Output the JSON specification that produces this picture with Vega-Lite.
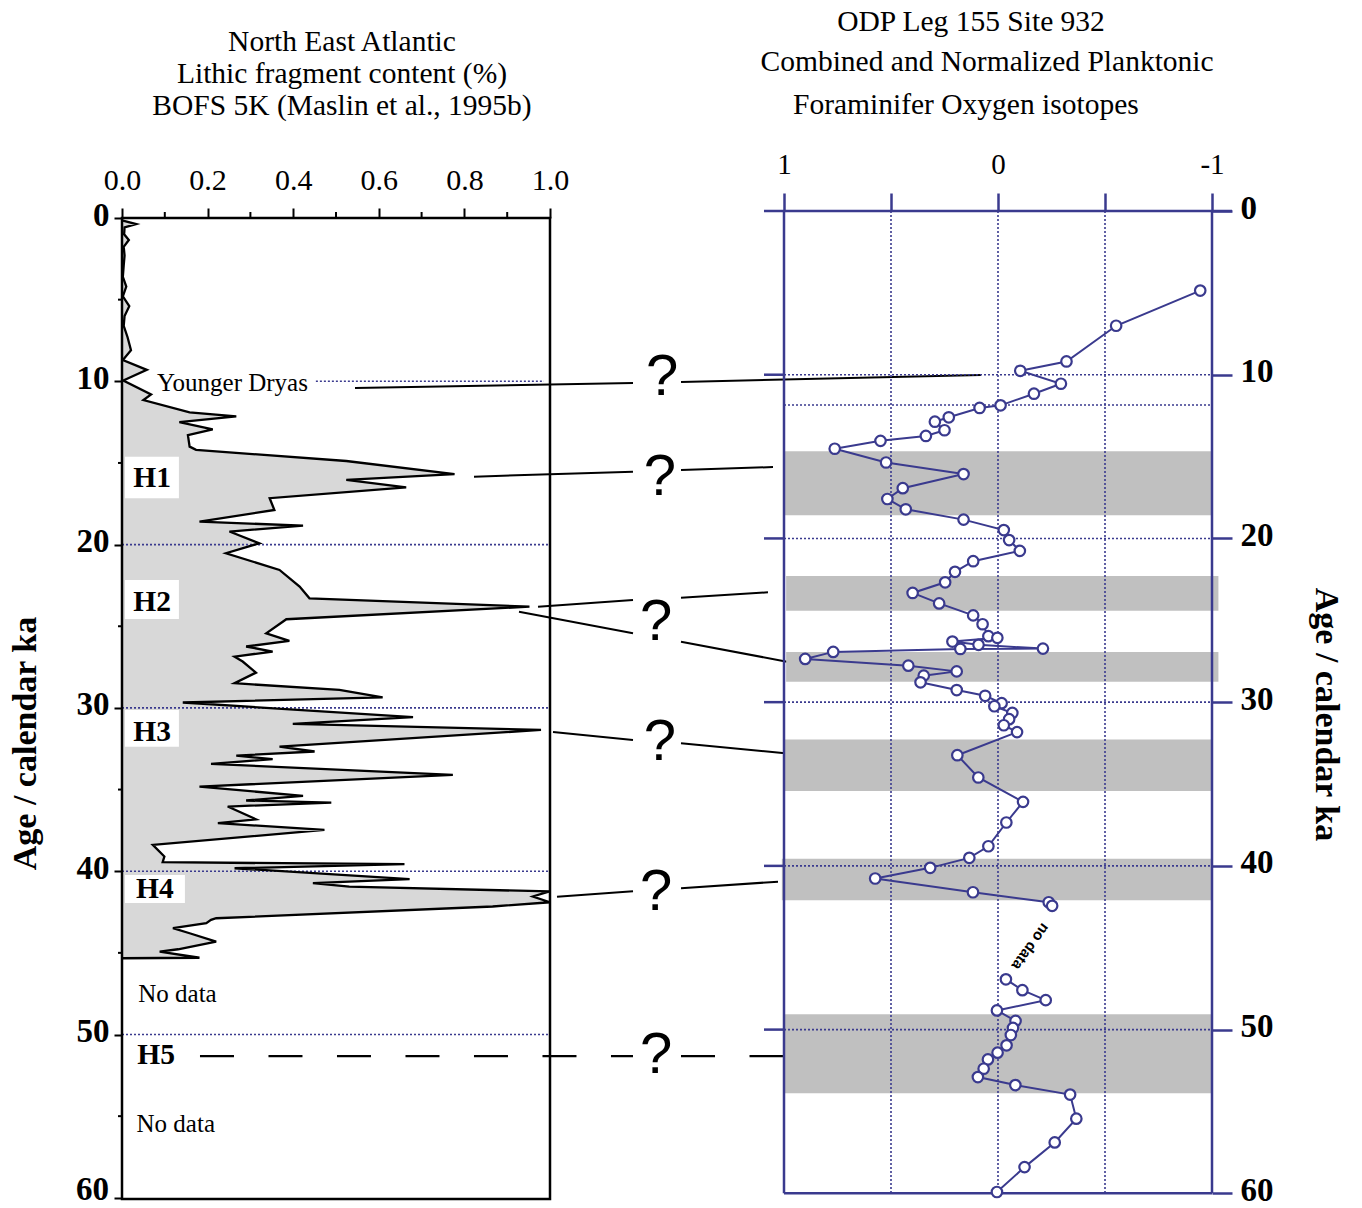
{
 "$schema": "https://vega.github.io/schema/vega-lite/v6.json",
 "width": 1090,
 "height": 988,
 "autosize": {"type": "none"},
 "padding": {"left": 122, "top": 211, "right": 150, "bottom": 9},
 "background": "white",
 "config": {"view": {"stroke": null}, "text": {"font": "Liberation Serif", "color": "black"}, "axis": {"grid": false, "domain": false}},
 "datasets": {
  "lithic": [
   {"x":0,"y":0.15},{"x":0.033,"y":0.37},{"x":0.006,"y":0.57},{"x":0.005,"y":1.0},{"x":0.016,"y":1.35},{"x":0.004,"y":1.76},{"x":0.006,"y":2.3},{"x":0.004,"y":2.9},{"x":0.002,"y":3.6},{"x":0.010,"y":4.2},{"x":0.002,"y":4.8},{"x":0.017,"y":5.4},{"x":0.006,"y":6.0},{"x":0.004,"y":6.6},{"x":0.013,"y":7.3},{"x":0.021,"y":8.1},{"x":0.002,"y":8.7},{"x":0.058,"y":9.3},{"x":0.003,"y":9.95},{"x":0.068,"y":10.8},{"x":0.050,"y":11.15},{"x":0.158,"y":11.9},{"x":0.267,"y":12.15},{"x":0.134,"y":12.5},{"x":0.212,"y":12.95},{"x":0.154,"y":13.3},{"x":0.158,"y":14.0},{"x":0.173,"y":14.2},{"x":0.524,"y":14.88},{"x":0.777,"y":15.69},{"x":0.524,"y":16.04},{"x":0.664,"y":16.49},{"x":0.345,"y":17.16},{"x":0.356,"y":17.88},{"x":0.181,"y":18.59},{"x":0.423,"y":18.84},{"x":0.251,"y":19.2},{"x":0.321,"y":19.92},{"x":0.243,"y":20.53},{"x":0.368,"y":21.55},{"x":0.415,"y":22.57},{"x":0.438,"y":23.29},{"x":0.952,"y":23.8},{"x":0.384,"y":24.57},{"x":0.337,"y":25.43},{"x":0.391,"y":25.9},{"x":0.290,"y":26.24},{"x":0.352,"y":26.55},{"x":0.263,"y":26.86},{"x":0.282,"y":27.16},{"x":0.313,"y":27.84},{"x":0.263,"y":28.49},{"x":0.508,"y":28.9},{"x":0.609,"y":29.35},{"x":0.142,"y":29.67},{"x":0.680,"y":30.57},{"x":0.399,"y":30.98},{"x":0.979,"y":31.35},{"x":0.368,"y":32.37},{"x":0.450,"y":32.67},{"x":0.267,"y":32.92},{"x":0.352,"y":33.14},{"x":0.208,"y":33.43},{"x":0.773,"y":34.1},{"x":0.181,"y":34.82},{"x":0.423,"y":35.39},{"x":0.290,"y":35.67},{"x":0.489,"y":35.8},{"x":0.247,"y":36.04},{"x":0.313,"y":36.82},{"x":0.224,"y":37.06},{"x":0.473,"y":37.47},{"x":0.072,"y":38.39},{"x":0.099,"y":39.1},{"x":0.095,"y":39.45},{"x":0.660,"y":39.57},{"x":0.263,"y":39.82},{"x":0.672,"y":40.48},{"x":0.446,"y":40.73},{"x":0.531,"y":40.94},{"x":0.999,"y":41.24},{"x":0.960,"y":41.55},{"x":1.0,"y":41.9},{"x":0.866,"y":42.16},{"x":0.220,"y":42.88},{"x":0.208,"y":42.98},{"x":0.197,"y":43.18},{"x":0.119,"y":43.49},{"x":0.158,"y":43.8},{"x":0.220,"y":44.31},{"x":0.131,"y":44.78},{"x":0.088,"y":44.92},{"x":0.181,"y":45.3},{"x":0.0,"y":45.33}
  ],
  "lboxes": [
   {"x":0.007,"x2":0.133,"y":14.62,"y2":17.16},
   {"x":0.007,"x2":0.133,"y":22.17,"y2":24.56},
   {"x":0.007,"x2":0.133,"y":30.13,"y2":32.38},
   {"x":0.007,"x2":0.147,"y":40.23,"y2":41.95}
  ],
  "ldots": [
   {"x":0.453,"x2":0.986,"y":10,"y2":10},
   {"x":0,"x2":1,"y":20,"y2":20},
   {"x":0,"x2":1,"y":30,"y2":30},
   {"x":0,"x2":1,"y":40,"y2":40},
   {"x":0,"x2":1,"y":50,"y2":50}
  ],
  "lblack": [
   {"x":0.5444,"x2":1.1939,"y":10.41,"y2":10.10},
   {"x":1.3061,"x2":2.0070,"y":10.04,"y2":9.61},
   {"x":0.8224,"x2":1.1939,"y":15.84,"y2":15.54},
   {"x":1.3061,"x2":1.5210,"y":15.43,"y2":15.25},
   {"x":0.9720,"x2":1.1939,"y":23.80,"y2":23.39},
   {"x":1.3061,"x2":1.5093,"y":23.25,"y2":22.92},
   {"x":0.9276,"x2":1.1939,"y":24.11,"y2":25.43},
   {"x":1.3061,"x2":1.5537,"y":25.95,"y2":27.17},
   {"x":1.0070,"x2":1.1939,"y":31.48,"y2":31.97},
   {"x":1.3061,"x2":1.5491,"y":32.17,"y2":32.78},
   {"x":1.0164,"x2":1.1939,"y":41.56,"y2":41.23},
   {"x":1.3061,"x2":1.5327,"y":41.05,"y2":40.64},
   {"x":-0.0093,"x2":0,"y":5,"y2":5},
   {"x":-0.0093,"x2":0,"y":15,"y2":15},
   {"x":-0.0093,"x2":0,"y":25,"y2":25},
   {"x":-0.0093,"x2":0,"y":35,"y2":35},
   {"x":-0.0093,"x2":0,"y":45,"y2":45},
   {"x":-0.0093,"x2":0,"y":55,"y2":55},
   {"x":0.1,"x2":0.1,"y":0,"y2":-0.367},
   {"x":0.3,"x2":0.3,"y":0,"y2":-0.367},
   {"x":0.5,"x2":0.5,"y":0,"y2":-0.367},
   {"x":0.7,"x2":0.7,"y":0,"y2":-0.367},
   {"x":0.9,"x2":0.9,"y":0,"y2":-0.367}
  ],
  "ldash": [
   {"x":0.1822,"x2":1.1939,"y":51.32,"y2":51.32},
   {"x":1.3061,"x2":1.5444,"y":51.32,"y2":51.32}
  ],
  "ltext": [
   {"x":0.0818,"y":10.57,"label":"Younger Dryas"},
   {"x":0.038,"y":47.99,"label":"No data"},
   {"x":0.034,"y":55.95,"label":"No data"}
  ],
  "lbold": [
   {"x":0.0264,"y":16.45,"label":"H1"},
   {"x":0.0264,"y":24.05,"label":"H2"},
   {"x":0.0264,"y":32.01,"label":"H3"},
   {"x":0.0327,"y":41.66,"label":"H4"},
   {"x":0.0358,"y":51.81,"label":"H5"}
  ],
  "l60": [{"x":-0.0304,"y":60.135,"label":"60"}],
  "lq": [
   {"x":1.2617,"y":10.84,"label":"?"},
   {"x":1.257,"y":16.96,"label":"?"},
   {"x":1.2477,"y":25.84,"label":"?"},
   {"x":1.257,"y":33.19,"label":"?"},
   {"x":1.2477,"y":42.38,"label":"?"},
   {"x":1.2477,"y":52.38,"label":"?"}
  ],
  "ltitle": [
   {"x":0.514,"y":-10.245,"label":"North East Atlantic"},
   {"x":0.514,"y":-8.249,"label":"Lithic fragment content (%)"},
   {"x":0.514,"y":-6.307,"label":"BOFS 5K (Maslin et al., 1995b)"}
  ],
  "lframe": [{"x":0,"x2":1,"y":0,"y2":60.07}],
  "bands": [
   {"x":1,"x2":-1,"y":14.67,"y2":18.58},
   {"x":0.99,"x2":-1.03,"y":22.29,"y2":24.42},
   {"x":0.99,"x2":-1.03,"y":26.93,"y2":28.75},
   {"x":1,"x2":-1,"y":32.28,"y2":35.42},
   {"x":1.01,"x2":-1,"y":39.57,"y2":42.1},
   {"x":1,"x2":-1,"y":49.06,"y2":53.89}
  ],
  "rdots": [
   {"x":0.5,"x2":0.5,"y":0,"y2":60},
   {"x":0,"x2":0,"y":0,"y2":60},
   {"x":-0.5,"x2":-0.5,"y":0,"y2":60},
   {"x":1,"x2":-1,"y":10,"y2":10},
   {"x":1,"x2":-1,"y":11.85,"y2":11.85},
   {"x":1,"x2":-1,"y":20,"y2":20},
   {"x":1,"x2":-1,"y":30,"y2":30},
   {"x":1,"x2":-1,"y":40,"y2":40},
   {"x":1,"x2":-1,"y":50,"y2":50}
  ],
  "rframe": [
   {"x":1,"x2":1,"y":0,"y2":60},
   {"x":-1,"x2":-1,"y":0,"y2":60},
   {"x":1,"x2":-1,"y":60,"y2":60},
   {"x":1.0935,"x2":-1.0935,"y":0,"y2":0},
   {"x":1.0935,"x2":1,"y":10,"y2":10},
   {"x":1.0935,"x2":1,"y":20,"y2":20},
   {"x":1.0935,"x2":1,"y":30,"y2":30},
   {"x":1.0935,"x2":1,"y":40,"y2":40},
   {"x":1.0935,"x2":1,"y":50,"y2":50}
  ],
  "o18": [
   {"i":1,"seg":1,"x":-0.945,"y":4.86},{"i":2,"seg":1,"x":-0.552,"y":7.01},{"i":3,"seg":1,"x":-0.320,"y":9.19},{"i":4,"seg":1,"x":-0.104,"y":9.76},{"i":5,"seg":1,"x":-0.294,"y":10.55},{"i":6,"seg":1,"x":-0.168,"y":11.16},{"i":7,"seg":1,"x":-0.012,"y":11.87},{"i":8,"seg":1,"x":0.086,"y":12.03},{"i":9,"seg":1,"x":0.230,"y":12.6},{"i":10,"seg":1,"x":0.295,"y":12.87},{"i":11,"seg":1,"x":0.250,"y":13.39},{"i":12,"seg":1,"x":0.337,"y":13.74},{"i":13,"seg":1,"x":0.549,"y":14.04},{"i":14,"seg":1,"x":0.763,"y":14.52},{"i":15,"seg":1,"x":0.523,"y":15.36},{"i":16,"seg":1,"x":0.161,"y":16.07},{"i":17,"seg":1,"x":0.445,"y":16.93},{"i":18,"seg":1,"x":0.517,"y":17.59},{"i":19,"seg":1,"x":0.431,"y":18.22},{"i":20,"seg":1,"x":0.161,"y":18.85},{"i":21,"seg":1,"x":-0.027,"y":19.49},{"i":22,"seg":1,"x":-0.052,"y":20.1},{"i":23,"seg":1,"x":-0.102,"y":20.76},{"i":24,"seg":1,"x":0.116,"y":21.39},{"i":25,"seg":1,"x":0.201,"y":22.04},{"i":26,"seg":1,"x":0.247,"y":22.68},{"i":27,"seg":1,"x":0.399,"y":23.33},{"i":28,"seg":1,"x":0.275,"y":23.97},{"i":29,"seg":1,"x":0.116,"y":24.7},{"i":30,"seg":1,"x":0.072,"y":25.24},{"i":31,"seg":1,"x":0.045,"y":25.97},{"i":32,"seg":1,"x":0.003,"y":26.07},{"i":33,"seg":1,"x":0.213,"y":26.3},{"i":34,"seg":1,"x":0.091,"y":26.5},{"i":35,"seg":1,"x":-0.210,"y":26.73},{"i":36,"seg":1,"x":0.176,"y":26.75},{"i":37,"seg":1,"x":0.770,"y":26.93},{"i":38,"seg":1,"x":0.901,"y":27.36},{"i":39,"seg":1,"x":0.419,"y":27.77},{"i":40,"seg":1,"x":0.193,"y":28.12},{"i":41,"seg":1,"x":0.347,"y":28.38},{"i":42,"seg":1,"x":0.362,"y":28.79},{"i":43,"seg":1,"x":0.193,"y":29.26},{"i":44,"seg":1,"x":0.060,"y":29.61},{"i":45,"seg":1,"x":-0.017,"y":30.06},{"i":46,"seg":1,"x":0.017,"y":30.25},{"i":47,"seg":1,"x":-0.067,"y":30.66},{"i":48,"seg":1,"x":-0.052,"y":31.04},{"i":49,"seg":1,"x":-0.027,"y":31.41},{"i":50,"seg":1,"x":-0.089,"y":31.83},{"i":51,"seg":1,"x":0.190,"y":33.24},{"i":52,"seg":1,"x":0.092,"y":34.6},{"i":53,"seg":1,"x":-0.117,"y":36.09},{"i":54,"seg":1,"x":-0.039,"y":37.35},{"i":55,"seg":1,"x":0.045,"y":38.8},{"i":56,"seg":1,"x":0.134,"y":39.51},{"i":57,"seg":1,"x":0.317,"y":40.12},{"i":58,"seg":1,"x":0.574,"y":40.77},{"i":59,"seg":1,"x":0.117,"y":41.61},{"i":60,"seg":1,"x":-0.237,"y":42.22},{"i":61,"seg":1,"x":-0.253,"y":42.44},
   {"i":62,"seg":2,"x":-0.037,"y":46.93},{"i":63,"seg":2,"x":-0.114,"y":47.59},{"i":64,"seg":2,"x":-0.223,"y":48.2},{"i":65,"seg":2,"x":0.005,"y":48.83},{"i":66,"seg":2,"x":-0.082,"y":49.47},{"i":67,"seg":2,"x":-0.070,"y":49.9},{"i":68,"seg":2,"x":-0.060,"y":50.33},{"i":69,"seg":2,"x":-0.040,"y":50.96},{"i":70,"seg":2,"x":0.002,"y":51.41},{"i":71,"seg":2,"x":0.047,"y":51.82},{"i":72,"seg":2,"x":0.067,"y":52.39},{"i":73,"seg":2,"x":0.094,"y":52.9},{"i":74,"seg":2,"x":-0.081,"y":53.39},{"i":75,"seg":2,"x":-0.337,"y":53.97},{"i":76,"seg":2,"x":-0.366,"y":55.44},{"i":77,"seg":2,"x":-0.265,"y":56.89},{"i":78,"seg":2,"x":-0.124,"y":58.4},{"i":79,"seg":2,"x":0.005,"y":59.92}
  ],
  "rnodata": [{"x":-0.153,"y":44.94,"label":"no data"}],
  "rtitle": [
   {"x":0.126,"y":-10.994,"label":"ODP Leg 155 Site 932"},
   {"x":0.051,"y":-8.551,"label":"Combined and Normalized Planktonic"},
   {"x":0.150,"y":-5.925,"label":"Foraminifer Oxygen isotopes"}
  ]
 },
 "layer": [
  {
   "encoding": {
    "x": {"field": "x", "type": "quantitative", "stack": null,
     "scale": {"domain": [0, 2.54673], "nice": false, "zero": false},
     "axis": {"orient": "top", "values": [0, 0.2, 0.4, 0.6, 0.8, 1.0], "format": ".1f", "offset": -7, "domain": false, "grid": false, "ticks": true, "tickSize": 10, "tickWidth": 2, "tickColor": "black", "labelFont": "Liberation Serif", "labelFontSize": 30, "labelColor": "black", "labelPadding": 13, "labelFlush": false, "title": null}},
    "y": {"field": "y", "type": "quantitative",
     "scale": {"domain": [-0.4287, 60.073], "reverse": true, "nice": false, "zero": false},
     "axis": {"orient": "left", "values": [0, 10, 20, 30, 40, 50, 60], "labelExpr": "datum.value == 60 ? '' : datum.label", "domain": false, "grid": false, "ticks": true, "tickSize": 8, "tickWidth": 2, "tickColor": "black", "labelFont": "Liberation Serif", "labelFontWeight": "bold", "labelFontSize": 33, "labelColor": "black", "labelPadding": 5, "labelOffset": -3, "labelFlush": false, "title": "Age / calendar ka", "titleFont": "Liberation Serif", "titleFontSize": 34, "titleFontWeight": "bold", "titleColor": "black", "titleX": -97, "titleY": 532, "titleAngle": -90, "titleAlign": "center", "titleBaseline": "middle"}}
   },
   "layer": [
    {"data": {"name": "lithic"}, "mark": {"type": "area", "orient": "horizontal", "color": "#d8d8d8"}},
    {"data": {"name": "lboxes"}, "mark": {"type": "rect", "color": "white"}, "encoding": {"x2": {"field": "x2"}, "y2": {"field": "y2"}}},
    {"data": {"name": "ldots"}, "mark": {"type": "rule", "color": "#3a3a8e", "strokeWidth": 1.6, "strokeDash": [2, 2]}, "encoding": {"x2": {"field": "x2"}, "y2": {"field": "y2"}}},
    {"data": {"name": "lithic"}, "mark": {"type": "line", "color": "black", "strokeWidth": 2.3}, "encoding": {"order": {"field": "y", "type": "quantitative"}}},
    {"data": {"name": "lframe"}, "mark": {"type": "rect", "filled": false, "fill": null, "stroke": "black", "strokeWidth": 2.5}, "encoding": {"x2": {"field": "x2"}, "y2": {"field": "y2"}}},
    {"data": {"name": "lblack"}, "mark": {"type": "rule", "color": "black", "strokeWidth": 2}, "encoding": {"x2": {"field": "x2"}, "y2": {"field": "y2"}}},
    {"data": {"name": "ldash"}, "mark": {"type": "rule", "color": "black", "strokeWidth": 2.2, "strokeDash": [34, 34.5]}, "encoding": {"x2": {"field": "x2"}, "y2": {"field": "y2"}}},
    {"data": {"name": "ltext"}, "mark": {"type": "text", "font": "Liberation Serif", "fontSize": 25, "align": "left", "baseline": "alphabetic"}, "encoding": {"text": {"field": "label"}}},
    {"data": {"name": "lbold"}, "mark": {"type": "text", "font": "Liberation Serif", "fontSize": 29.5, "fontWeight": "bold", "align": "left", "baseline": "alphabetic"}, "encoding": {"text": {"field": "label"}}},
    {"data": {"name": "l60"}, "mark": {"type": "text", "font": "Liberation Serif", "fontSize": 33, "fontWeight": "bold", "align": "right", "baseline": "alphabetic"}, "encoding": {"text": {"field": "label"}}},
    {"data": {"name": "lq"}, "mark": {"type": "text", "font": "Liberation Sans", "fontSize": 58, "align": "center", "baseline": "alphabetic"}, "encoding": {"text": {"field": "label"}}},
    {"data": {"name": "ltitle"}, "mark": {"type": "text", "font": "Liberation Serif", "fontSize": 29.5, "align": "center", "baseline": "alphabetic"}, "encoding": {"text": {"field": "label"}}}
   ]
  },
  {
   "encoding": {
    "x": {"field": "x", "type": "quantitative",
     "scale": {"domain": [-1, 4.09346], "reverse": true, "nice": false, "zero": false},
     "axis": {"orient": "top", "values": [1, 0.5, 0, -0.5, -1], "labelExpr": "datum.value == 1 ? '1' : datum.value == 0 ? '0' : datum.value == -1 ? '-1' : ''", "domain": false, "grid": false, "ticks": true, "tickSize": 18, "tickWidth": 2.5, "tickColor": "#3a3a8e", "labelFont": "Liberation Serif", "labelFontSize": 29, "labelColor": "black", "labelPadding": 14, "labelFlush": false, "title": null}},
    "y": {"field": "y", "type": "quantitative",
     "scale": {"domain": [0, 60.347], "reverse": true, "nice": false, "zero": false},
     "axis": {"orient": "right", "values": [0, 10, 20, 30, 40, 50, 60], "domain": false, "grid": false, "ticks": true, "tickSize": 20, "tickWidth": 2.5, "tickColor": "#3a3a8e", "labelFont": "Liberation Serif", "labelFontWeight": "bold", "labelFontSize": 33, "labelColor": "black", "labelPadding": 8, "labelOffset": -3, "labelFlush": false, "title": "Age / calendar ka", "titleFont": "Liberation Serif", "titleFontSize": 34, "titleFontWeight": "bold", "titleColor": "black", "titleX": 113, "titleY": 503, "titleAngle": 90, "titleAlign": "center", "titleBaseline": "middle"}}
   },
   "layer": [
    {"data": {"name": "bands"}, "mark": {"type": "rect", "color": "#c0c0c0"}, "encoding": {"x2": {"field": "x2"}, "y2": {"field": "y2"}}},
    {"data": {"name": "rdots"}, "mark": {"type": "rule", "color": "#3a3a8e", "strokeWidth": 1.6, "strokeDash": [2, 2]}, "encoding": {"x2": {"field": "x2"}, "y2": {"field": "y2"}}},
    {"data": {"name": "rframe"}, "mark": {"type": "rule", "color": "#3a3a8e", "strokeWidth": 2.5}, "encoding": {"x2": {"field": "x2"}, "y2": {"field": "y2"}}},
    {"data": {"name": "o18"}, "mark": {"type": "line", "color": "#3a3a8e", "strokeWidth": 2}, "encoding": {"order": {"field": "i", "type": "quantitative"}, "detail": {"field": "seg", "type": "nominal"}}},
    {"data": {"name": "o18"}, "mark": {"type": "point", "shape": "circle", "filled": true, "fill": "white", "stroke": "#3a3a8e", "strokeWidth": 2.2, "size": 110, "opacity": 1}},
    {"data": {"name": "rnodata"}, "mark": {"type": "text", "font": "Liberation Sans", "fontSize": 15, "fontWeight": "bold", "angle": 126, "align": "center", "baseline": "middle"}, "encoding": {"text": {"field": "label"}}},
    {"data": {"name": "rtitle"}, "mark": {"type": "text", "font": "Liberation Serif", "fontSize": 29.5, "align": "center", "baseline": "alphabetic"}, "encoding": {"text": {"field": "label"}}}
   ]
  }
 ],
 "resolve": {"scale": {"x": "independent", "y": "independent"}, "axis": {"x": "independent", "y": "independent"}}
}
